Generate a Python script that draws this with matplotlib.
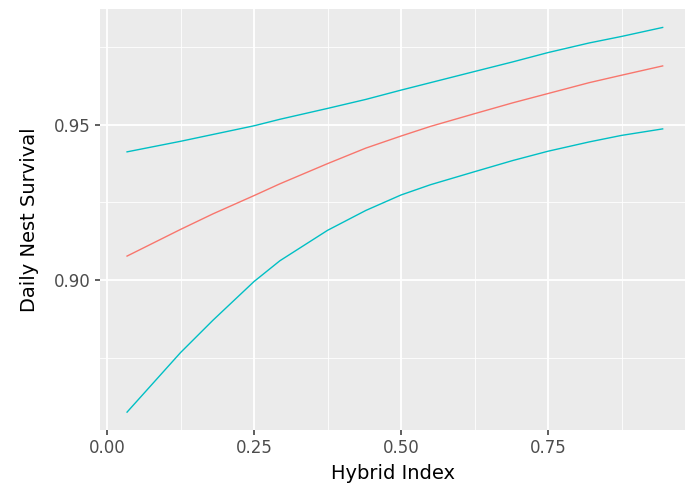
#Daily nest survival vs hybrid index - ggplot look in matplotlib

import matplotlib
matplotlib.use("Agg")
import matplotlib.pyplot as plt
from matplotlib.ticker import MultipleLocator

#values
hybrid = [0.034, 0.125, 0.18, 0.25, 0.294, 0.375, 0.44, 0.50,
          0.55, 0.625, 0.69, 0.75, 0.82, 0.875, 0.945]
fit = [0.9077, 0.9163, 0.9213, 0.9272, 0.9310, 0.9375, 0.9425, 0.9464,
       0.9495, 0.9536, 0.9571, 0.9601, 0.9636, 0.9660, 0.9690]
upper = [0.9413, 0.9447, 0.9469, 0.9497, 0.9518, 0.9553, 0.9582, 0.9612,
         0.9636, 0.9672, 0.9703, 0.9733, 0.9764, 0.9785, 0.9814]
lower = [0.8574, 0.8766, 0.8870, 0.8995, 0.9062, 0.9160, 0.9224, 0.9274,
         0.9307, 0.9349, 0.9385, 0.9415, 0.9445, 0.9466, 0.9487]

xticks = [0.00, 0.25, 0.50, 0.75]
xticklabels = ["0.00", "0.25", "0.50", "0.75"]
yticks = [0.90, 0.95]
yticklabels = ["0.90", "0.95"]

plt.rcParams["font.family"] = ["DejaVu Sans"]

fig = plt.figure(figsize=(6.85, 4.91), dpi=100)
ax = fig.add_axes([0.146, 0.124, 0.854, 0.858])

#ggplot grey panel
ax.set_facecolor("#EBEBEB")
for s in ax.spines.values():
    s.set_visible(False)

ax.plot(hybrid, upper, color="#00BFC4", lw=1.0)
ax.plot(hybrid, fit, color="#F8766D", lw=1.0)
ax.plot(hybrid, lower, color="#00BFC4", lw=1.0)

ax.set_xlim(-0.012, 0.983)
ax.set_ylim(0.8516, 0.9874)

ax.set_xticks(xticks)
ax.set_xticklabels(xticklabels)
ax.set_yticks(yticks)
ax.set_yticklabels(yticklabels)
ax.xaxis.set_minor_locator(MultipleLocator(0.125))
ax.yaxis.set_minor_locator(MultipleLocator(0.025))

ax.grid(which="major", color="white", lw=1.3)
ax.grid(which="minor", color="white", lw=0.6)
ax.set_axisbelow(True)

ax.tick_params(which="major", length=3.5, width=1.1, color="#333333",
               labelsize=12, labelcolor="#4D4D4D", pad=3)
ax.tick_params(which="minor", length=0)

ax.set_xlabel("Hybrid Index", fontsize=14, color="black", labelpad=5)
ax.set_ylabel("Daily Nest Survival", fontsize=14, color="black", labelpad=11)

plt.savefig("out.png", dpi=100)
